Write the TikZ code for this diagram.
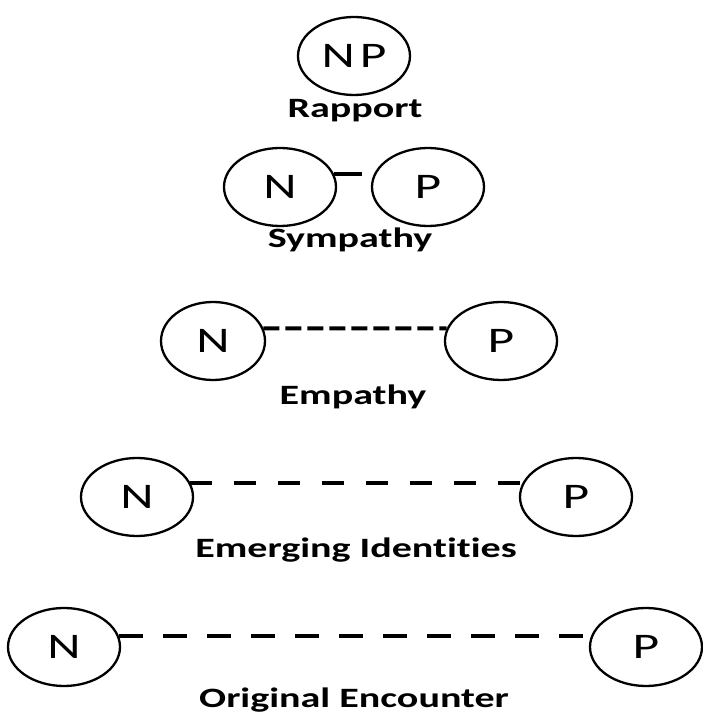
\documentclass[tikz,border=0pt]{standalone}
\usepackage{fontspec}
\setmainfont{Carlito}
\newfontfamily\labfont[FakeStretch=1.43,Ligatures=NoCommon]{Carlito}
\usetikzlibrary{shapes.geometric}
\begin{document}
\begin{tikzpicture}[x=1pt,y=1pt,
  person/.style={draw, ellipse, line width=2.3pt, minimum width=112pt, minimum height=78pt,
    inner sep=0pt, font=\labfont\fontsize{36}{40}\selectfont},
  lbl/.style={anchor=base, inner sep=0pt, font=\labfont\bfseries\fontsize{28}{32}\selectfont},
  link/.style={line width=4pt}
]
\useasboundingbox (0,0) rectangle (702,715);
% Rapport
\node[person] (r) at (354,659) {N\kern5pt P};
\node[lbl] (rl) at (355,597) {Rapport};
% Sympathy
\node[person] (sn) at (280,528) {N};
\node[person] (sp) at (428,528) {P};
\coordinate (se) at (362,541);
\draw[link] (sn.13) -- (sn.13 -| se);
\node[lbl] (sl) at (350,467) {Sympathy};
% Empathy
\node[person, minimum width=104pt] (en) at (213,374) {N};
\node[person] (ep) at (501,374) {P};
\draw[link, dash pattern=on 16pt off 6pt] (en.14) -- (ep.167);
\node[lbl] (el) at (353,310) {Empathy};
% Emerging Identities
\node[person] (mn) at (137,218) {N};
\node[person] (mp) at (576,218) {P};
\draw[link, dash pattern=on 22pt off 22pt] (mn.15) -- (mp.165);
\node[lbl] (ml) at (356,157) {Emerging Identities};
% Original Encounter
\node[person] (on) at (64,68) {N};
\node[person] (op) at (646,68) {P};
\draw[link, dash pattern=on 24pt off 20pt] (on.11) -- (op.169);
\node[lbl] (ol) at (354,8) {Original Encounter};
\end{tikzpicture}
\end{document}
